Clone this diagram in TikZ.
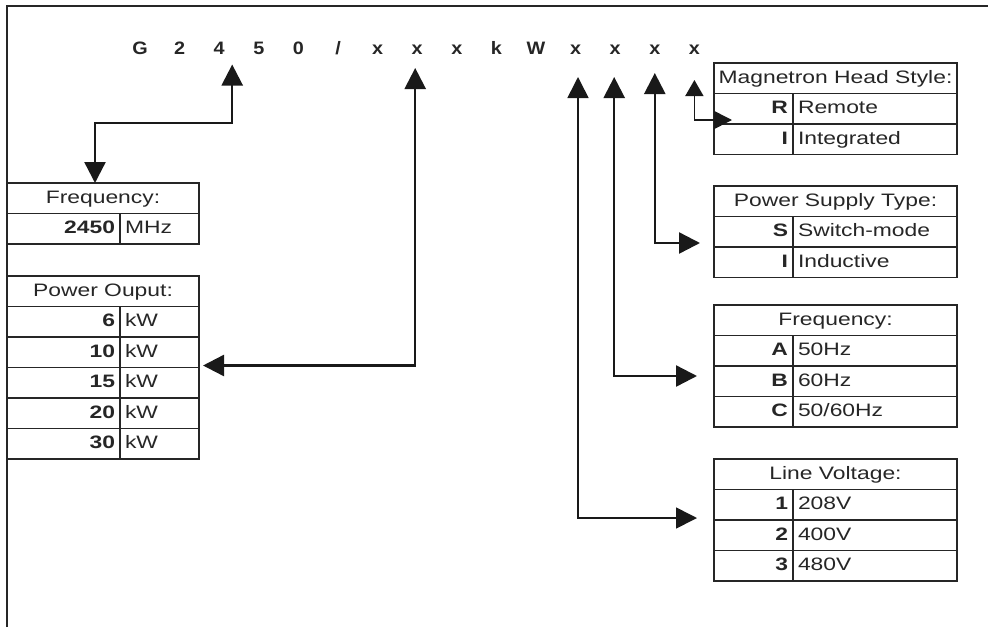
\documentclass[tikz,border=0pt]{standalone}
\usepackage{fontspec}
\setmainfont{Liberation Sans}[FakeStretch=1.27]
\newfontfamily\codefont{Liberation Sans}[FakeStretch=1.1]
\usetikzlibrary{arrows.meta,positioning,calc}
\tikzset{
  cell/.style={draw=black!85, line width=1.5pt, outer sep=0pt, inner ysep=0pt,
    minimum height=30.5pt, text height=13pt, text depth=3pt, text=black!85,
    font=\fontsize{18}{20}\selectfont},
  headcell/.style={cell, minimum width=#1},
  keycell/.style={cell, inner xsep=5pt, text width=#1, align=right,
    font=\fontsize{18}{20}\selectfont\bfseries},
  valcell/.style={cell, inner xsep=5pt, text width=#1, align=left},
  codechar/.style={font=\codefont\fontsize{18}{20}\selectfont\bfseries,
    text=black!85, inner sep=0pt, anchor=base},
  link/.style={draw=black!90, line width=2.4pt,
    {Triangle[length=21pt,width=21pt]}-{Triangle[length=21pt,width=21pt]}},
  thinlink/.style={link, line width=1.6pt},
  smalllink/.style={draw=black!90, line width=1.6pt,
    {Triangle[length=16pt,width=18pt]}-{Triangle[length=18pt,width=18pt]}},
  x=1pt, y=-1pt}

\begin{document}
\begin{tikzpicture}
  \useasboundingbox (0,0) rectangle (988,627);
  % frame
  \draw[line width=2.6pt, black!85] (7,627) -- (7,6) -- (988,6);

  % model code
  \foreach \c [count=\i] in {G,2,4,5,0,/,x,x,x,k,W,x,x,x,x}
    \node[codechar] (g\i) at ({140+39.6*(\i-1)},54.5) {\c};

  % left tables
  \node[headcell=192pt] (fqh) at (103,198.25) {Frequency:};
  \node[keycell=103pt, anchor=north west] (fq1k) at (fqh.south west) {2450};
  \node[valcell=69pt, anchor=north west] (fq1v) at (fq1k.north east) {MHz};

  \node[headcell=192pt] (pwh) at (103,291.25) {Power Ouput:};
  \node[keycell=103pt, anchor=north west] (pw6k) at (pwh.south west) {6};
  \node[valcell=69pt, anchor=north west] (pw6v) at (pw6k.north east) {kW};
  \node[keycell=103pt, anchor=north west] (pw10k) at (pw6k.south west) {10};
  \node[valcell=69pt, anchor=north west] (pw10v) at (pw10k.north east) {kW};
  \node[keycell=103pt, anchor=north west] (pw15k) at (pw10k.south west) {15};
  \node[valcell=69pt, anchor=north west] (pw15v) at (pw15k.north east) {kW};
  \node[keycell=103pt, anchor=north west] (pw20k) at (pw15k.south west) {20};
  \node[valcell=69pt, anchor=north west] (pw20v) at (pw20k.north east) {kW};
  \node[keycell=103pt, anchor=north west] (pw30k) at (pw20k.south west) {30};
  \node[valcell=69pt, anchor=north west] (pw30v) at (pw30k.north east) {kW};

  % right tables
  \node[headcell=243pt] (mhh) at (835.5,78.25) {Magnetron Head Style:};
  \node[keycell=69pt, anchor=north west] (mhRk) at (mhh.south west) {R};
  \node[valcell=154pt, anchor=north west] (mhRv) at (mhRk.north east) {Remote};
  \node[keycell=69pt, anchor=north west] (mhIk) at (mhRk.south west) {I};
  \node[valcell=154pt, anchor=north west] (mhIv) at (mhIk.north east) {Integrated};

  \node[headcell=243pt] (psh) at (835.5,201.25) {Power Supply Type:};
  \node[keycell=69pt, anchor=north west] (psSk) at (psh.south west) {S};
  \node[valcell=154pt, anchor=north west] (psSv) at (psSk.north east) {Switch-mode};
  \node[keycell=69pt, anchor=north west] (psIk) at (psSk.south west) {I};
  \node[valcell=154pt, anchor=north west] (psIv) at (psIk.north east) {Inductive};

  \node[headcell=243pt] (frh) at (835.5,320.25) {Frequency:};
  \node[keycell=69pt, anchor=north west] (frAk) at (frh.south west) {A};
  \node[valcell=154pt, anchor=north west] (frAv) at (frAk.north east) {50Hz};
  \node[keycell=69pt, anchor=north west] (frBk) at (frAk.south west) {B};
  \node[valcell=154pt, anchor=north west] (frBv) at (frBk.north east) {60Hz};
  \node[keycell=69pt, anchor=north west] (frCk) at (frBk.south west) {C};
  \node[valcell=154pt, anchor=north west] (frCv) at (frCk.north east) {50/60Hz};

  \node[headcell=243pt] (lvh) at (835.5,474.25) {Line Voltage:};
  \node[keycell=69pt, anchor=north west] (lv1k) at (lvh.south west) {1};
  \node[valcell=154pt, anchor=north west] (lv1v) at (lv1k.north east) {208V};
  \node[keycell=69pt, anchor=north west] (lv2k) at (lv1k.south west) {2};
  \node[valcell=154pt, anchor=north west] (lv2v) at (lv2k.north east) {400V};
  \node[keycell=69pt, anchor=north west] (lv3k) at (lv2k.south west) {3};
  \node[valcell=154pt, anchor=north west] (lv3v) at (lv3k.north east) {480V};

  % arrows
  \coordinate (t3) at ([xshift=13pt,yshift=-10pt]g3.base);
  \coordinate (t8) at ([xshift=-2pt,yshift=-13.5pt]g8.base);
  \coordinate (t12) at ([xshift=2.4pt,yshift=-22.5pt]g12.base);
  \coordinate (t13) at ([xshift=-1pt,yshift=-22.5pt]g13.base);
  \coordinate (t14) at ([yshift=-18.5pt]g14.base);
  \coordinate (t15) at ([yshift=-25.5pt]g15.base);
  \coordinate (k3) at (95,123);

  \draw[link] (t3) |- (k3) -- (fqh.north -| k3);
  \draw[link] (t8) |- ($(pw10v.south east)+(4,-2)$);
  \draw[thinlink] (t12) |- ($(lv1k.south west)+(-17,-2)$);
  \draw[link] (t13) |- ($(frAk.south west)+(-17,10)$);
  \draw[link] (t14) |- ($(psSk.south west)+(-14,-4)$);
  \draw[smalllink] (t15) |- ($(mhRk.south west)+(18,-4)$);
\end{tikzpicture}
\end{document}
